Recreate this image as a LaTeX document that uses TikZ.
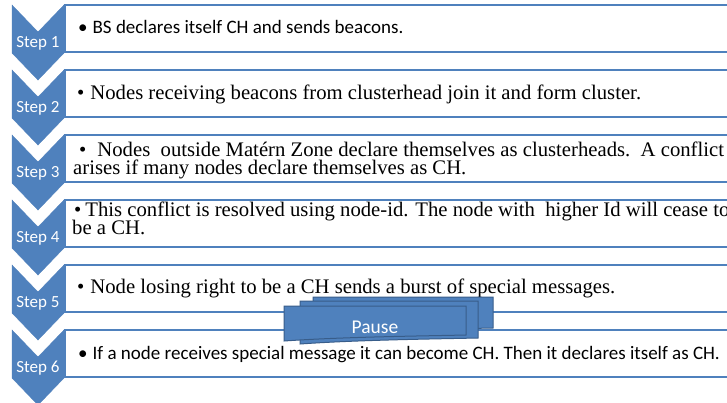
\documentclass[tikz,border=0pt]{standalone}
\usepackage{fontspec}
\setmainfont{Liberation Serif}
\newfontfamily\calib{Carlito}
\usetikzlibrary{calc}
\definecolor{stepblue}{RGB}{79,129,189}
\definecolor{stepedge}{RGB}{56,93,138}
\newcommand\tightlines{\lineskiplimit=-30pt\relax}

\begin{document}
\begin{tikzpicture}[x=1pt,y=-1pt,
  chev/.style={fill=stepblue, draw=stepblue, line width=0.4pt},
  steplabel/.style={text=white, inner sep=0, font=\calib\fontsize{17}{19}\selectfont},
  stepbox/.style={draw=stepblue, line width=2pt, fill=white},
  sanstext/.style={anchor=base west, inner sep=0, font=\calib\fontsize{19}{20}\selectfont},
  seriftext/.style={anchor=base west, inner sep=0, align=left,
    font=\fontsize{20.7}{18}\selectfont\tightlines},
  doc/.style={fill=stepblue, draw=stepedge, line width=1pt},
]
\useasboundingbox (0,0) rectangle (727,402);
\clip (0,0) rectangle (727,402);
\fill[white] (0,0) rectangle (727,402);
% chevrons and boxes
\foreach \i in {1,...,6} {
  \pgfmathsetmacro{\t}{5+65*(\i-1)}
  \draw[chev] (12,\t) -- (38,\t+27) -- (64,\t) -- (64,\t+48) -- (38,\t+75) -- (12,\t+48) -- cycle;
  \draw[stepbox] (65,\t) rectangle (745,\t+47);
  \node[steplabel] (s\i) at (38,\t+38) {Step \i};
}
% base of a two-line node is its last line
\node[sanstext] (t1) at (78,33) {\textbullet\hspace{5pt}BS declares itself CH and sends beacons.};
\node[seriftext] (t2) at (77,99) {\textbullet\hspace{6pt}Nodes receiving beacons from clusterhead join it and form cluster.};
\node[seriftext] (t3) at (73,174) {\hspace*{6pt}\textbullet\hspace{11pt}Nodes\ \ outside Matérn Zone declare themselves as clusterheads.\ \ A conflict\\
  arises if many nodes declare themselves as CH.};
\node[seriftext] (t4) at (72,234) {\hspace*{2pt}\textbullet\hspace{4pt}This conflict is resolved using node-id. The node with\ \ higher Id will cease to\\
  be a CH.};
\node[seriftext] (t5) at (77,293) {\textbullet\hspace{6pt}Node losing right to be a CH sends a burst of special messages.};
\node[sanstext] (t6) at (78,359) {\textbullet\hspace{5pt}If a node receives special message it can become CH. Then it declares itself as CH.};
% pause
\foreach \l/\tp/\r/\rb in {313/297/493/328, 300/301/478/338, 284/306/466/335} {
  \draw[doc] (\l,\tp) -- (\r,\tp) -- (\r,\rb)
    .. controls (\r-46,\rb+1) and (\l+56,\rb+2) .. (\l,\rb+6) -- cycle;
}
\node[text=white, inner sep=0, font=\calib\fontsize{19.5}{21}\selectfont] (pause) at (375,327) {Pause};
\end{tikzpicture}
\end{document}
